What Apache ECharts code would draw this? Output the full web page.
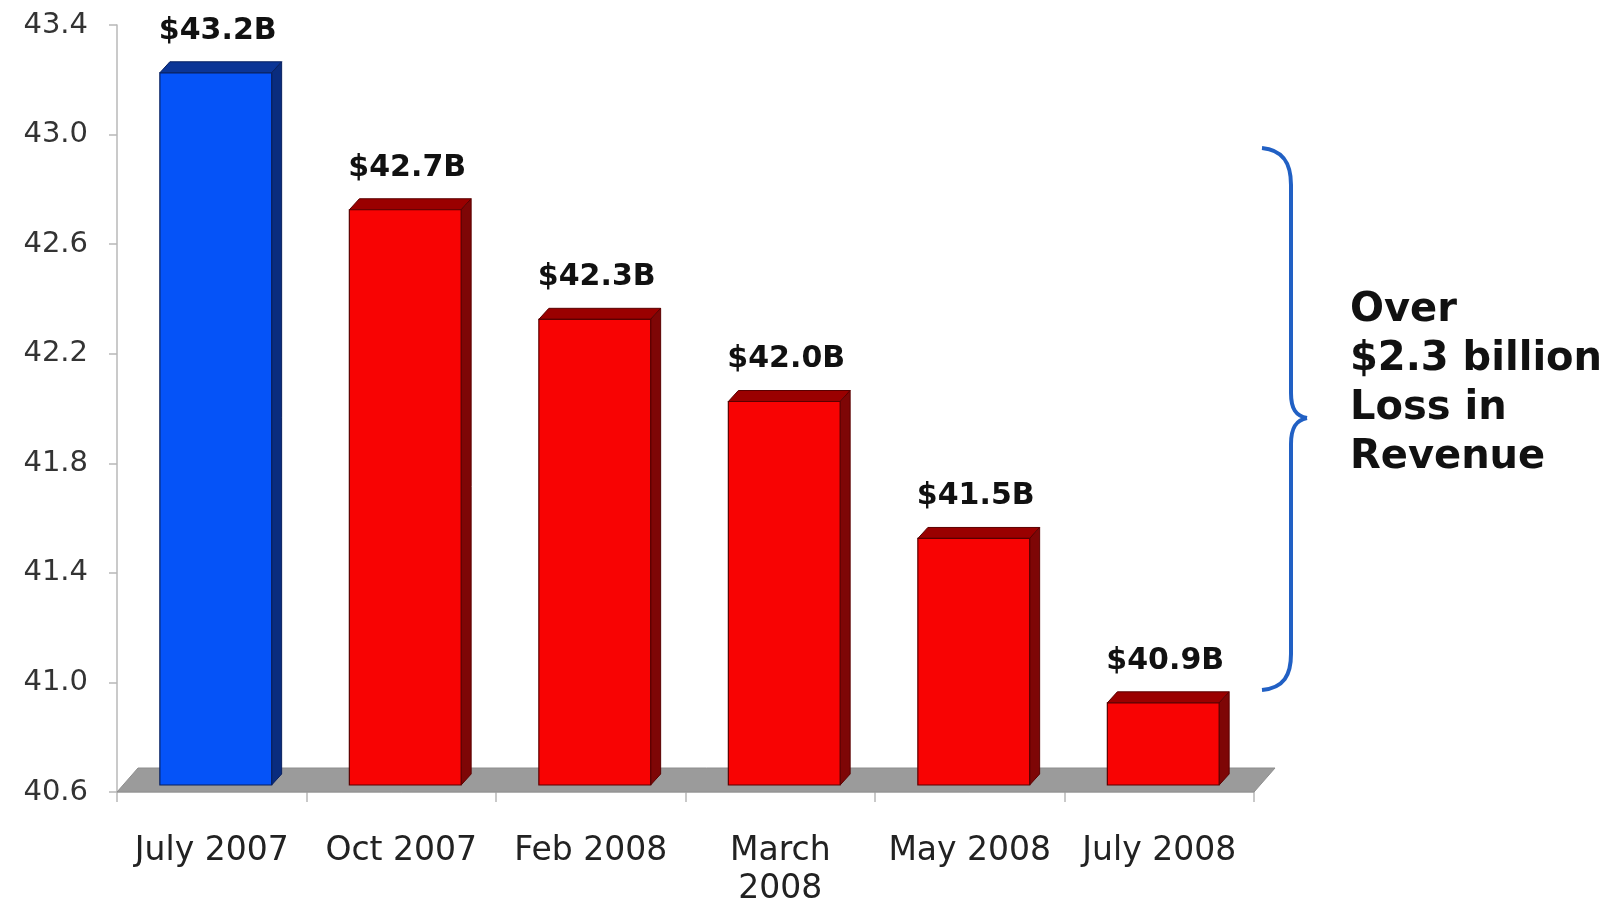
<!DOCTYPE html>
<html><head><meta charset="utf-8">
<script src="https://cdn.jsdelivr.net/npm/echarts@6/dist/echarts.min.js"></script>
<style>html,body{margin:0;padding:0;background:#fff}#c{width:1619px;height:908px}</style>
</head><body><div id="c"></div>
<script>
const categories = ['July 2007', 'Oct 2007', 'Feb 2008', 'March\n2008', 'May 2008', 'July 2008'];
const revenue = [43.2, 42.7, 42.3, 42.0, 41.5, 40.9];
const valueLabels = ['$43.2B', '$42.7B', '$42.3B', '$42.0B', '$41.5B', '$40.9B'];
const yTicks = [40.6, 41.0, 41.4, 41.8, 42.2, 42.6, 43.0, 43.4];
const annotationLines = ['Over', '$2.3 billion', 'Loss in', 'Revenue'];

const yMin = 40.6, yMax = 43.4;
const chart = echarts.init(document.getElementById('c'));

const BLUE = {front: '#0553F8', top: '#0B3596', side: '#0A2C7E', edge: '#082060'};
const RED = {front: '#F80303', top: '#9A0000', side: '#7E0606', edge: '#5A0000'};

function renderBar(params, api) {
  const i = api.value(0), v = api.value(1);
  const top = api.coord([i, v]);
  const base = api.coord([i, yMin]);
  const band = api.size([1, 0])[0];
  const w = band * 0.59;
  const lift = 7, dx = 10, dy = 11;
  const x0 = top[0] - w / 2 + 4;
  const yT = top[1] - lift, yB = base[1] - lift;
  const c = i === 0 ? BLUE : RED;
  return {
    type: 'group',
    children: [
      {type: 'polygon', shape: {points: [[x0, yT], [x0 + dx, yT - dy], [x0 + w + dx, yT - dy], [x0 + w, yT]]},
        style: {fill: c.top, stroke: c.edge, lineWidth: 1}},
      {type: 'polygon', shape: {points: [[x0 + w, yT], [x0 + w + dx, yT - dy], [x0 + w + dx, yB - dy], [x0 + w, yB]]},
        style: {fill: c.side, stroke: c.edge, lineWidth: 1}},
      {type: 'rect', shape: {x: x0, y: yT, width: w, height: yB - yT},
        style: {fill: c.front, stroke: c.edge, lineWidth: 1.2}},
      {type: 'text', style: {text: valueLabels[params.dataIndex], x: x0 + w / 2 + 2, y: yT - 42,
        align: 'center', verticalAlign: 'middle', fill: '#111',
        font: 'bold 30px "DejaVu Sans", Verdana, sans-serif'}}
    ]
  };
}

function renderFloor(params, api) {
  const cs = params.coordSys;
  const yb = cs.y + cs.height, xl = cs.x, xr = cs.x + cs.width;
  const dx = 21, dy = 24;
  return {
    type: 'polygon',
    shape: {points: [[xl, yb], [xr, yb], [xr + dx, yb - dy], [xl + dx, yb - dy]]},
    style: {fill: '#9B9B9B', stroke: '#8E8E8E', lineWidth: 1}
  };
}

const braceStyle = {stroke: '#2160C4', lineWidth: 4, fill: 'none'};

chart.setOption({
  animation: false,
  backgroundColor: '#ffffff',
  grid: {left: 117, top: 25, width: 1137, height: 772},
  xAxis: {
    type: 'category', data: categories,
    axisLine: {show: true, lineStyle: {color: '#C8C8C8', width: 1.5}},
    axisTick: {show: true, length: 10, lineStyle: {color: '#B8B8B8', width: 1.5}},
    axisLabel: {margin: 40, fontSize: 33, lineHeight: 38, color: '#222',
      fontFamily: '"DejaVu Sans", Verdana, sans-serif', interval: 0}
  },
  yAxis: {
    type: 'value', min: yMin, max: yMax,
    splitLine: {show: false},
    axisLine: {show: true, lineStyle: {color: '#B8B8B8', width: 1.5}},
    axisTick: {show: true, length: 8, customValues: yTicks, lineStyle: {color: '#B8B8B8', width: 1.5}},
    axisLabel: {margin: 29, fontSize: 29, color: '#333', customValues: yTicks,
      fontFamily: '"DejaVu Sans", Verdana, sans-serif',
      formatter: v => v.toFixed(1)}
  },
  series: [
    {type: 'custom', z: 1, data: [[0]], renderItem: renderFloor, silent: true},
    {type: 'custom', z: 2, data: revenue.map((v, i) => [i, v]), renderItem: renderBar,
      encode: {x: 0, y: 1}}
  ],
  graphic: [
    {type: 'bezierCurve', z: 10, shape: {x1: 1262, y1: 148, cpx1: 1284, cpy1: 150, cpx2: 1291, cpy2: 164, x2: 1291, y2: 185}, style: braceStyle},
    {type: 'line', z: 10, shape: {x1: 1291, y1: 185, x2: 1291, y2: 393}, style: braceStyle},
    {type: 'bezierCurve', z: 10, shape: {x1: 1291, y1: 393, cpx1: 1291, cpy1: 409, cpx2: 1296, cpy2: 416, x2: 1307, y2: 418}, style: braceStyle},
    {type: 'bezierCurve', z: 10, shape: {x1: 1307, y1: 418, cpx1: 1296, cpy1: 420, cpx2: 1291, cpy2: 428, x2: 1291, y2: 444}, style: braceStyle},
    {type: 'line', z: 10, shape: {x1: 1291, y1: 444, x2: 1291, y2: 654}, style: braceStyle},
    {type: 'bezierCurve', z: 10, shape: {x1: 1291, y1: 654, cpx1: 1291, cpy1: 675, cpx2: 1284, cpy2: 688, x2: 1262, y2: 690}, style: braceStyle},
    {type: 'text', z: 10, left: 1350, top: 286,
      style: {text: annotationLines.join('\n'), fill: '#111',
        font: 'bold 40px "DejaVu Sans", Verdana, sans-serif', lineHeight: 49}}
  ]
});
</script>
</body></html>
